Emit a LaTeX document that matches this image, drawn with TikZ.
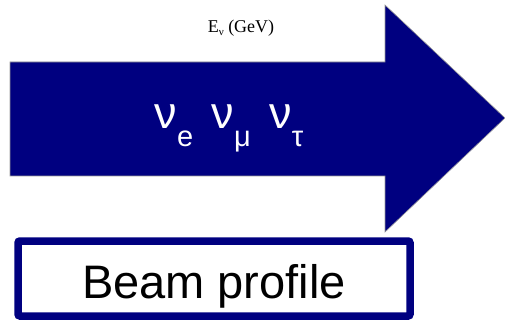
\documentclass[tikz,border=0pt]{standalone}
\usepackage{fontspec}
\setmainfont{Liberation Sans}
\newfontfamily\seriffont{Liberation Serif}
\begin{document}
\begin{tikzpicture}[
            x=1pt, y=-1pt,
            beam/.style={fill=navy, draw=gray!80, line width=0.6pt},
            flavour/.style={text=white, inner sep=0pt, anchor=base},
            profilebox/.style={draw=navy, line width=7.5pt, rounded corners=2pt, fill=white}
            ]
            \definecolor{navy}{RGB}{0,0,128}
            \useasboundingbox (0,0) rectangle (505,320);

            % beam arrow
            \draw[beam] (10,62) -- (385,62) -- (385,5) -- (505,118) -- (385,232)
                -- (385,176) -- (10,176) -- cycle;

            \node[inner sep=0pt, anchor=base] (energy) at (241,33)
                {\seriffont\fontsize{18}{18}\selectfont E\raisebox{-3pt}{\fontsize{11}{11}\selectfont ν} (GeV)};

            \node[flavour] (nus) at (229,129)
                {\fontsize{45}{45}\selectfont ν\raisebox{-18pt}{\fontsize{29}{29}\selectfont e}\hspace{6pt} ν\raisebox{-18pt}{\fontsize{29}{29}\selectfont μ}\hspace{6pt} ν\raisebox{-18pt}{\fontsize{29}{29}\selectfont τ}};

            % beam profile box
            \draw[profilebox] (18,241) rectangle (410,316);
            \node[inner sep=0pt, anchor=base] (profile) at (214,298)
                {\fontsize{47}{47}\selectfont Beam profile};

            \end{tikzpicture}
\end{document}
